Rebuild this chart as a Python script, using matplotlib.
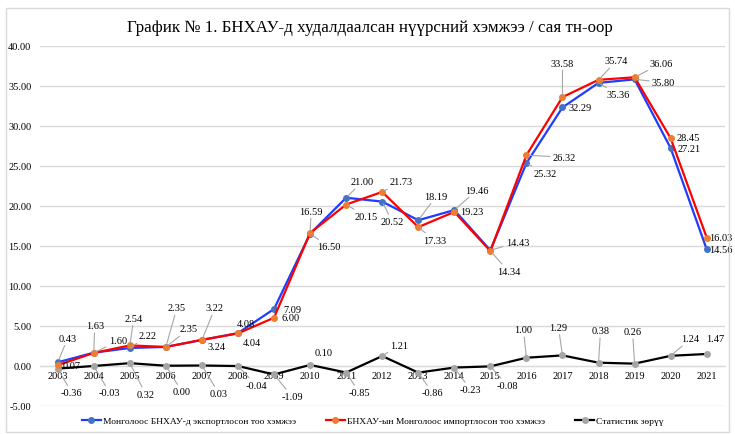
import matplotlib
matplotlib.use("Agg")
import matplotlib.pyplot as plt
from matplotlib.patches import Rectangle

plt.rcParams['font.family'] = ['Liberation Serif', 'DejaVu Serif']

years = list(range(2003, 2022))
export_mn = [0.43, 1.63, 2.22, 2.35, 3.22, 4.08, 7.09, 16.50, 21.00, 20.52,
             18.19, 19.46, 14.43, 25.32, 32.29, 35.36, 35.80, 27.21, 14.56]
import_cn = [0.07, 1.60, 2.54, 2.35, 3.24, 4.04, 6.00, 16.59, 20.15, 21.73,
             17.33, 19.23, 14.34, 26.32, 33.58, 35.74, 36.06, 28.45, 16.03]
stat_diff = [-0.36, -0.03, 0.32, 0.00, 0.03, -0.04, -1.09, 0.10, -0.85, 1.21,
             -0.86, -0.23, -0.08, 1.00, 1.29, 0.38, 0.26, 1.24, 1.47]

title = "График № 1. БНХАУ-д худалдаалсан нүүрсний хэмжээ / сая тн-оор"
name_export = "Монголоос БНХАУ-д экспортлосон тоо хэмжээ"
name_import = "БНХАУ-ын Монголоос импортлосон тоо хэмжээ"
name_diff = "Статистик зөрүү"

# label offsets in pixels (layout only)
off_export = [(10, 24), (1, 27), (18, 12), (11, 39), (13, 32), (8, 10), (18, 0),
              (19, -13), (16, 16), (10, -20), (18, 24), (23, 20), (27, 8),
              (19, -10), (18, 0), (20, -12), (29, -3), (18, 0), (14, 0)]
off_import = [(14, 0), (24, 12), (4, 27), (23, 18), (15, -7), (14, -9), (17, 0),
              (1, 22), (20, -12), (19, 10), (16, -13), (17, 0), (18, -20),
              (38, -2), (0, 34), (18, 19), (27, 14), (18, 1), (14, 0)]
off_diff = [(14, -24), (16, -27), (16, -31), (16, -26), (17, -28), (18, -19),
            (18, -22), (14, 12), (13, -20), (17, 11), (14, -20), (16, -22),
            (17, -19), (-3, 28), (-4, 28), (2, 32), (-2, 32), (20, 17), (9, 15)]

fig = plt.figure(figsize=(7.35, 4.35), dpi=100)
ax = fig.add_axes([0.054, 0.065, 0.932, 0.8275])

fig.patches.append(Rectangle((0.008, 0.005), 0.984, 0.975, transform=fig.transFigure,
                             fill=False, edgecolor='#d9d9d9', linewidth=1))

ax.plot(years, export_mn, color='#1f3cff', linewidth=1.6, marker='o', markersize=4,
        markerfacecolor='#4472c4', markeredgecolor='#4472c4', label=name_export, zorder=3)
ax.plot(years, import_cn, color='#ff0000', linewidth=1.6, marker='o', markersize=4,
        markerfacecolor='#ed7d31', markeredgecolor='#ed7d31', label=name_import, zorder=4)
ax.plot(years, stat_diff, color='#000000', linewidth=1.6, marker='o', markersize=4,
        markerfacecolor='#a5a5a5', markeredgecolor='#a5a5a5', label=name_diff, zorder=3)

def put_labels(vals, offs):
    for x, v, (dx, dy) in zip(years, vals, offs):
        props = None
        if (dx * dx + dy * dy) ** 0.5 > 19:
            props = dict(arrowstyle='-', color='#a6a6a6', lw=0.8, shrinkA=0, shrinkB=2)
        ax.annotate("%.2f" % v, xy=(x, v), xytext=(dx, dy), textcoords='offset pixels',
                    ha='center', va='center', fontsize=7.5, color='#000000',
                    arrowprops=props, zorder=6, annotation_clip=False)

put_labels(export_mn, off_export)
put_labels(import_cn, off_import)
put_labels(stat_diff, off_diff)

ax.set_xlim(2002.5, 2021.5)
ax.set_ylim(-5, 40)
ax.set_yticks([-5, 0, 5, 10, 15, 20, 25, 30, 35, 40])
ax.set_yticklabels(["%.2f" % t for t in ax.get_yticks()])
ax.set_xticks(years)
ax.set_xticklabels([str(y) for y in years])
ax.grid(axis='y', color='#d9d9d9', linewidth=1)
ax.set_axisbelow(True)
for s in ['top', 'right', 'left']:
    ax.spines[s].set_visible(False)
ax.spines['bottom'].set_position(('data', 0))
ax.spines['bottom'].set_color('#d9d9d9')
ax.tick_params(axis='both', length=0, labelsize=7.5, pad=4)
ax.tick_params(axis='y', pad=6)

fig.text(0.503, 0.935, title, ha='center', va='center', fontsize=12.2)

handles, labels = ax.get_legend_handles_labels()
fig.legend(handles, labels, loc='center', bbox_to_anchor=(0.507, 0.03), ncol=3,
           frameon=False, fontsize=6.8, handlelength=2.0, columnspacing=3.2,
           handletextpad=0.2, borderaxespad=0, borderpad=0)

fig.savefig("out.png", dpi=100)
